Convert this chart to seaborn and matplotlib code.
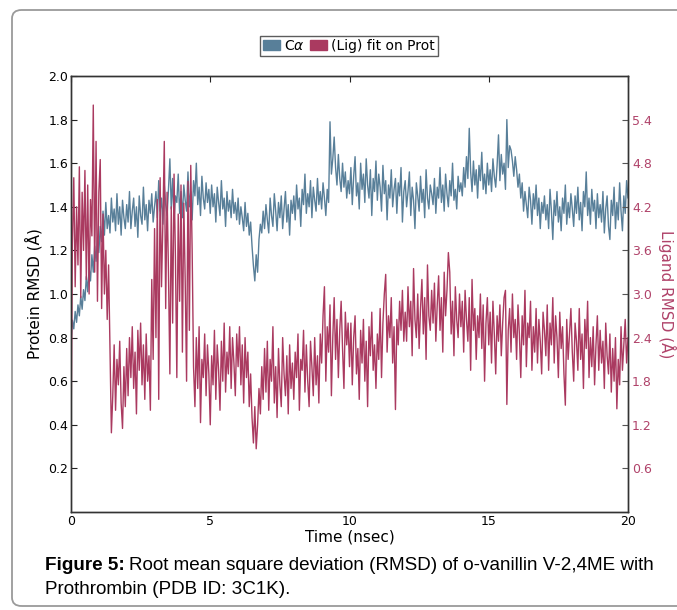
import numpy as np
import pandas as pd
import matplotlib
matplotlib.use("Agg")
import matplotlib.pyplot as plt
from matplotlib.patches import Patch, FancyBboxPatch
import seaborn as sns

# Protein C-alpha RMSD (Angstrom), one value every 0.05 ns
ca_rmsd = [
    0.78, 0.88, 0.84, 0.92, 0.87, 0.95, 0.90, 0.99, 0.93, 1.02, 0.97, 1.08, 1.01, 1.12, 1.06, 1.18, 1.10, 1.22, 1.15, 1.26,
    1.19, 1.31, 1.24, 1.38, 1.27, 1.42, 1.30, 1.36, 1.28, 1.44, 1.33, 1.39, 1.29, 1.46, 1.32, 1.40, 1.27, 1.43, 1.35, 1.30,
    1.41, 1.33, 1.47, 1.30, 1.38, 1.44, 1.31, 1.40, 1.26, 1.45, 1.36, 1.32, 1.49, 1.34, 1.41, 1.29, 1.43, 1.37, 1.46, 1.33,
    1.40, 1.47, 1.35, 1.52, 1.38, 1.44, 1.32, 1.50, 1.41, 1.36, 1.48, 1.62, 1.39, 1.53, 1.34, 1.45, 1.42, 1.55, 1.37, 1.47,
    1.35, 1.50, 1.43, 1.38, 1.56, 1.40, 1.47, 1.34, 1.52, 1.45, 1.60, 1.41, 1.49, 1.36, 1.54, 1.44, 1.39, 1.51, 1.42, 1.48,
    1.37, 1.50, 1.40, 1.46, 1.33, 1.49, 1.42, 1.36, 1.52, 1.39, 1.44, 1.31, 1.47, 1.38, 1.43, 1.35, 1.48, 1.37, 1.42, 1.34,
    1.44, 1.32, 1.40, 1.35, 1.29, 1.42, 1.31, 1.37, 1.27, 1.33, 1.22, 1.13, 1.06, 1.18, 1.10, 1.25, 1.32, 1.28, 1.38, 1.30,
    1.41, 1.34, 1.28, 1.44, 1.36, 1.31, 1.46, 1.38, 1.29, 1.42, 1.35, 1.45, 1.30, 1.39, 1.47, 1.33, 1.41, 1.27, 1.43, 1.37,
    1.45, 1.34, 1.50, 1.39, 1.44, 1.31, 1.48, 1.41, 1.55, 1.37, 1.46, 1.40, 1.52, 1.35, 1.49, 1.43, 1.38, 1.53, 1.41, 1.47,
    1.39, 1.51, 1.44, 1.36, 1.48, 1.42, 1.79, 1.55, 1.62, 1.72, 1.58, 1.50, 1.64, 1.53, 1.47, 1.60, 1.49, 1.56, 1.44, 1.52,
    1.46, 1.58, 1.41, 1.54, 1.63, 1.45, 1.51, 1.39, 1.60, 1.48, 1.55, 1.42, 1.62, 1.50, 1.44, 1.57, 1.36, 1.53, 1.47, 1.61,
    1.43, 1.55, 1.49, 1.38, 1.59, 1.46, 1.52, 1.34, 1.50, 1.44, 1.57, 1.40, 1.48, 1.53, 1.37, 1.51, 1.45, 1.58, 1.33, 1.47,
    1.52, 1.40, 1.47, 1.56, 1.36, 1.49, 1.43, 1.30, 1.51, 1.45, 1.38, 1.54, 1.42, 1.48, 1.35, 1.57, 1.44, 1.39, 1.50, 1.46,
    1.41, 1.53, 1.37, 1.49, 1.44, 1.58, 1.42, 1.50, 1.38, 1.55, 1.46, 1.40, 1.52, 1.45, 1.60, 1.43, 1.48, 1.39, 1.54, 1.47,
    1.51, 1.45, 1.58, 1.49, 1.63, 1.53, 1.76, 1.56, 1.47, 1.61, 1.50, 1.57, 1.44, 1.59, 1.52, 1.65, 1.48, 1.55, 1.46, 1.60,
    1.50, 1.57, 1.47, 1.62, 1.54, 1.49, 1.59, 1.73, 1.52, 1.64, 1.55, 1.60, 1.48, 1.80, 1.58, 1.68, 1.66, 1.61, 1.54, 1.63,
    1.57, 1.49, 1.55, 1.44, 1.51, 1.38, 1.47, 1.41, 1.35, 1.49, 1.43, 1.32, 1.46, 1.39, 1.50, 1.36, 1.44, 1.30, 1.42, 1.37,
    1.45, 1.34, 1.41, 1.30, 1.48, 1.38, 1.25, 1.43, 1.36, 1.47, 1.33, 1.40, 1.29, 1.44, 1.37, 1.50, 1.32, 1.42, 1.35, 1.46,
    1.39, 1.31, 1.45, 1.37, 1.49, 1.34, 1.42, 1.29, 1.47, 1.40, 1.56, 1.36, 1.44, 1.32, 1.48, 1.38, 1.43, 1.30, 1.46, 1.35,
    1.41, 1.33, 1.47, 1.28, 1.39, 1.45, 1.31, 1.25, 1.43, 1.36, 1.49, 1.30, 1.42, 1.34, 1.51, 1.38, 1.29, 1.45, 1.37, 1.52,
    1.44,
]

# Ligand RMSD (Angstrom) fit on protein, same time grid
lig_rmsd = [
    0.90, 3.70, 4.60, 3.10, 4.20, 3.40, 4.75, 2.95, 4.40, 3.60, 4.70, 3.20, 4.50, 3.00, 4.30, 3.80, 5.60, 3.30, 5.10, 2.90,
    4.40, 4.85, 2.80, 4.10, 3.00, 3.60, 2.65, 3.40, 2.20, 1.09, 1.60, 2.30, 1.40, 2.10, 1.75, 2.35, 1.50, 1.15, 2.00, 1.45,
    2.25, 1.60, 2.40, 1.85, 2.55, 1.70, 2.20, 1.35, 2.50, 1.95, 2.60, 1.75, 2.30, 1.55, 2.45, 1.80, 2.15, 1.40, 3.20, 2.10,
    3.90, 2.40, 4.30, 1.55, 4.60, 3.10, 4.00, 5.10, 2.80, 4.40, 3.30, 1.90, 4.20, 2.60, 4.65, 3.50, 1.85, 4.10, 2.90, 4.50,
    2.20, 4.25, 3.20, 1.80, 4.55, 2.50, 4.77, 3.60, 2.00, 1.45, 2.40, 1.70, 2.55, 1.23, 2.10, 1.85, 2.45, 1.60, 2.30, 1.90,
    1.20, 2.15, 1.75, 2.50, 1.55, 2.30, 1.95, 1.40, 2.35, 1.80, 2.60, 1.65, 2.20, 1.90, 2.55, 1.70, 2.40, 2.05, 1.60, 2.45,
    2.00, 2.55, 1.75, 2.30, 1.50, 2.40, 1.85, 2.20, 1.45, 1.90, 1.30, 0.95, 1.45, 0.87, 1.20, 1.70, 1.35, 2.00, 1.55, 2.25,
    1.65, 2.35, 1.40, 2.10, 1.80, 2.55, 1.50, 2.00, 1.30, 2.25, 1.75, 1.45, 2.40, 1.90, 1.60, 2.15, 1.35, 2.30, 1.70, 2.05,
    1.55, 2.20, 1.85, 2.45, 1.40, 2.10, 1.95, 2.50, 1.65, 2.30, 1.80, 1.45, 2.35, 2.00, 1.60, 2.40, 1.75, 2.15, 1.50, 2.45,
    2.05, 2.70, 3.10, 1.80, 2.55, 2.20, 2.85, 1.60, 2.40, 2.95, 2.10, 2.65, 1.85, 2.50, 2.90, 2.25, 1.70, 2.75, 2.30, 2.60,
    2.00, 2.60, 1.75, 2.40, 2.70, 1.90, 2.25, 1.55, 2.50, 2.05, 2.65, 1.80, 2.35, 1.45, 2.55, 2.15, 2.75, 1.95, 2.30, 1.70,
    2.45, 2.10, 2.80, 1.85, 2.60, 3.00, 3.27, 2.20, 2.70, 2.40, 2.95, 2.05, 2.55, 1.41, 2.65, 2.30, 2.90, 2.50, 3.05, 2.35,
    2.75, 2.35, 3.10, 2.55, 2.90, 2.15, 3.35, 2.65, 2.40, 3.00, 2.25, 2.80, 3.20, 2.45, 2.95, 2.10, 3.40, 2.70, 2.50, 3.05,
    2.60, 3.15, 2.35, 2.85, 3.25, 2.50, 2.95, 2.20, 3.30, 2.70, 3.05, 3.57, 3.30, 2.45, 2.90, 2.15, 3.10, 2.65, 2.40, 3.00,
    2.55, 2.90, 2.20, 3.05, 2.65, 2.35, 2.95, 1.95, 3.20, 2.50, 2.80, 2.10, 2.70, 2.40, 3.00, 2.25, 2.85, 1.80, 2.60, 2.95,
    2.30, 2.75, 2.05, 2.90, 2.45, 1.90, 2.70, 2.35, 2.85, 2.15, 2.60, 2.95, 3.05, 1.48, 2.50, 2.80, 2.20, 3.00, 2.40, 2.65,
    2.10, 2.85, 2.45, 1.85, 2.70, 2.30, 3.05, 2.00, 2.60, 2.40, 2.90, 1.95, 2.55, 2.20, 2.80, 2.05, 2.65, 2.35, 1.90, 2.75,
    2.50, 2.15, 2.85, 1.95, 2.60, 2.30, 2.95, 2.05, 2.70, 2.40, 1.85, 2.75, 2.25, 2.55, 1.90, 1.47, 2.65, 2.10, 2.45, 2.80,
    2.20, 1.80, 2.60, 2.35, 1.95, 2.80, 2.10, 2.45, 1.70, 2.65, 2.25, 2.90, 1.85, 2.40, 2.00, 2.55, 1.75, 2.30, 2.70, 1.95,
    2.50, 2.05, 2.35, 1.70, 2.60, 2.15, 1.90, 2.45, 1.65, 2.25, 1.80, 2.40, 1.42, 2.10, 1.75, 2.55, 1.95, 2.30, 2.65, 2.05,
    2.40,
]

time_ns = np.arange(len(ca_rmsd)) * 0.05

x_ticks = [0, 5, 10, 15, 20]
left_ticks = [0.2, 0.4, 0.6, 0.8, 1.0, 1.2, 1.4, 1.6, 1.8, 2.0]
right_ticks = [0.6, 1.2, 1.8, 2.4, 3.0, 3.6, 4.2, 4.8, 5.4]

blue = "#587f99"
red = "#aa3a60"
label_red = "#b0436a"

df = pd.DataFrame({"time": time_ns, "ca": ca_rmsd, "lig": lig_rmsd})

sns.set_style("white")
plt.rcParams["font.family"] = ["DejaVu Sans"]
plt.rcParams["text.color"] = "black"
plt.rcParams["axes.labelcolor"] = "black"

fig = plt.figure(figsize=(6.77, 6.10), dpi=100)

# rounded frame around the whole figure
frame = FancyBboxPatch((12 / 677, 1 - 606 / 610), 700 / 677, 596 / 610,
                       boxstyle="round,pad=0,rounding_size=0.014",
                       transform=fig.transFigure, facecolor="none",
                       edgecolor="#9a9a9a", linewidth=1.3, clip_on=False)
fig.patches.append(frame)

ax = fig.add_axes([71 / 677, 1 - 512 / 610, 557 / 677, 436 / 610])
ax2 = ax.twinx()

sns.lineplot(data=df, x="time", y="ca", ax=ax, color=blue, linewidth=1.0,
             estimator=None, legend=False)
sns.lineplot(data=df, x="time", y="lig", ax=ax2, color=red, linewidth=1.0,
             estimator=None, legend=False)

ax.set_xlim(0, 20)
ax.set_ylim(0, 2.0)
ax2.set_ylim(0, 6.0)

ax.set_xticks(x_ticks)
ax.set_xticklabels([str(v) for v in x_ticks])
ax.set_yticks(left_ticks)
ax.set_yticklabels([f"{v:.1f}" for v in left_ticks])
ax2.set_yticks(right_ticks)
ax2.set_yticklabels([f"{v:.1f}" for v in right_ticks])

ax.tick_params(axis="both", direction="in", length=4, width=0.8, labelsize=9,
               top=True, right=False, pad=2, colors="#222222")
ax.tick_params(axis="both", labelcolor="black")
ax2.tick_params(axis="y", direction="in", length=4, width=0.8, labelsize=9,
                colors="#555555", labelcolor=label_red, pad=3)

for a in (ax, ax2):
    for s in a.spines.values():
        s.set_color("#333333")
        s.set_linewidth(1.0)

ax.set_xlabel("Time (nsec)", fontsize=11, labelpad=1)
ax.set_ylabel("Protein RMSD (Å)", fontsize=11, labelpad=4)
ax2.set_ylabel("Ligand RMSD (Å)", fontsize=11, color=label_red, rotation=270,
               labelpad=17)

handles = [Patch(facecolor=blue, edgecolor=blue, label=r"C$\alpha$"),
           Patch(facecolor=red, edgecolor=red, label="(Lig) fit on Prot")]
fig.legend(handles=handles, loc="center", bbox_to_anchor=(349 / 677, 1 - 46 / 610),
           ncol=2, fontsize=10, frameon=True, fancybox=False, edgecolor="#333333",
           handlelength=1.2, handleheight=0.7, handletextpad=0.3, columnspacing=0.4,
           borderpad=0.2, borderaxespad=0)

cap_font = ["Liberation Sans", "DejaVu Sans"]
cap_size = 13.6
t1 = fig.text(45 / 677, 1 - 566 / 610, "Figure 5:", fontsize=cap_size, fontweight="bold",
              family=cap_font, va="center", color="black")
fig.canvas.draw()
bb = t1.get_window_extent(fig.canvas.get_renderer())
fig.text((bb.x1 + 4) / 677, 1 - 566 / 610,
         "Root mean square deviation (RMSD) of o-vanillin V-2,4ME with",
         fontsize=cap_size, family=cap_font, va="center", color="black")
fig.text(45 / 677, 1 - 589 / 610, "Prothrombin (PDB ID: 3C1K).", fontsize=cap_size,
         family=cap_font, va="center", color="black")

fig.savefig("out.png", dpi=100)
